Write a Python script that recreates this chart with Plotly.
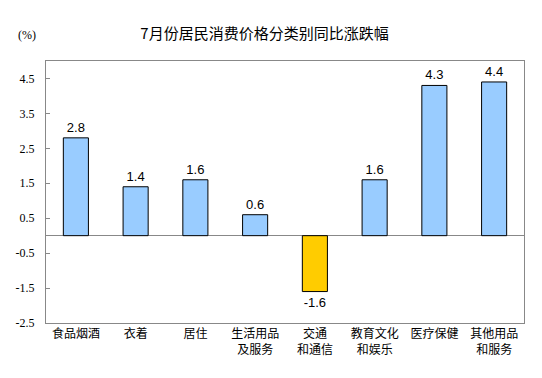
import plotly.graph_objects as go

categories = ["食品烟酒", "衣着", "居住", "生活用品<br>及服务", "交通<br>和通信", "教育文化<br>和娱乐", "医疗保健", "其他用品<br>和服务"]
values = [2.8, 1.4, 1.6, 0.6, -1.6, 1.6, 4.3, 4.4]
tick_vals = [4.5, 3.5, 2.5, 1.5, 0.5, -0.5, -1.5, -2.5]
tick_text = ["4.5", "3.5", "2.5", "1.5", "0.5", "-0.5", "-1.5", "-2.5"]

colors = ["#FFCC00" if v < 0 else "#99CCFF" for v in values]
labels = [f"{v:.1f}" for v in values]

fig = go.Figure(go.Bar(
    x=list(range(len(categories))), y=values,
    marker=dict(color=colors, line=dict(color="#000000", width=1)),
    width=0.42,
    text=labels, textposition="outside", cliponaxis=False,
    textfont=dict(family="Liberation Sans", size=13, color="#000000"),
))

fig.update_layout(
    width=542, height=378,
    margin=dict(l=46, r=18, t=61, b=55),
    paper_bgcolor="white", plot_bgcolor="white",
    showlegend=False,
    title=dict(text="7月份居民消费价格分类别同比涨跌幅", x=0.488, xanchor="center", y=0.912, yanchor="middle",
               font=dict(family="Noto Sans CJK SC", size=15, color="#000000")),
    xaxis=dict(range=[-0.5, 7.5], tickvals=list(range(len(categories))), ticktext=categories,
               showgrid=False, zeroline=False, showline=True, mirror=True, linecolor="#888888", linewidth=1,
               ticks="", automargin=False,
               tickfont=dict(family="Noto Sans CJK SC", size=12, color="#000000")),
    yaxis=dict(range=[-2.5, 5.0], tickvals=tick_vals, ticktext=tick_text,
               showgrid=False, zeroline=True, zerolinecolor="#888888", zerolinewidth=1,
               showline=True, mirror=True, linecolor="#888888", linewidth=1,
               ticks="inside", ticklen=4, tickcolor="#888888", ticklabelstandoff=8, automargin=False,
               tickfont=dict(family="'Liberation Serif', 'Times New Roman', serif", size=12, color="#000000")),
    annotations=[dict(text="(%)", xref="paper", yref="paper", x=-0.04, y=1.1, xanchor="center", yanchor="middle",
                      showarrow=False, font=dict(family="'Liberation Serif', 'Times New Roman', serif", size=12, color="#000000"))],
)

fig.write_html("out.html", config={"displayModeBar": False}, post_script="document.body.style.margin='0';")
